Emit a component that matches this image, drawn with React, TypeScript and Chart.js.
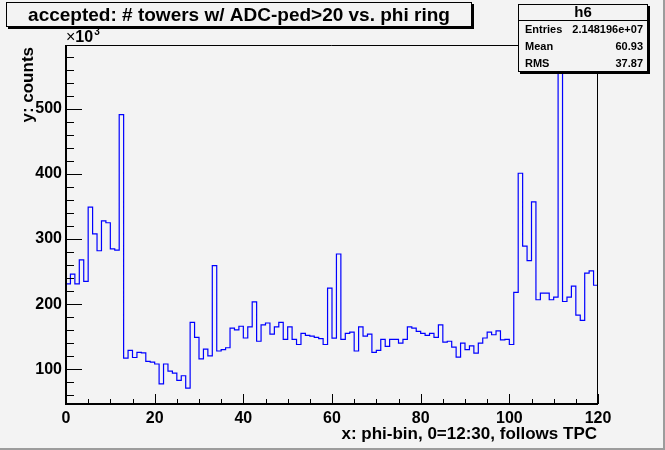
import React, { useEffect, useRef } from 'react';
import { Chart, registerables } from 'chart.js';

Chart.register(...registerables);

// counts per phi-bin, in units of 10^3
const binCounts: number[] = [
  231, 246, 231, 268, 235, 349, 308, 282, 328, 325,
  285, 283, 491, 117, 129, 118, 126, 125, 112, 111,
  108, 77.5, 108, 97, 94, 83, 90, 71, 172, 149,
  116, 131, 120.5, 259, 128, 130, 133, 163, 160.5, 166,
  148, 165, 203.6, 143, 168, 171, 154, 165, 172, 146,
  165, 146, 138, 155, 152, 151, 149, 147, 138, 224.6,
  147.7, 277, 146, 155, 157, 128, 165, 151, 154, 126,
  129, 146, 135, 146, 146, 140, 146, 165, 163, 158,
  155, 152, 155, 149, 168, 141.5, 143, 134, 118.5, 140,
  130, 136, 124.6, 140, 148, 157, 153, 159, 145, 146,
  138, 218, 401, 289, 266.7, 357, 206.7, 217, 217, 206.7,
  210.8, 650, 204, 210.8, 227.7, 183, 175, 247.7, 251, 229,
];

const xTickLabels: number[] = [0, 20, 40, 60, 80, 100, 120];
const yTickLabels: number[] = [100, 200, 300, 400, 500];
const xMin = 0;
const xMax = 120;
const yMin = 46.6;
const yMax = 598;

const titleText = 'accepted: # towers w/ ADC-ped>20 vs. phi ring';
const xTitle = 'x: phi-bin, 0=12:30, follows TPC';
const yTitle = 'y: counts';
const statsName = 'h6';
const statsLabels: string[] = ['Entries', 'Mean', 'RMS'];
const statsValues: string[] = ['2.148196e+07', '60.93', '37.87'];

const FONT = '"Liberation Sans", Arial, Helvetica, sans-serif';
const BG = '#f3f3f3';

const rootPlugin = {
  id: 'rootStyle',
  beforeDraw(chart: any) {
    const ctx = chart.ctx;
    ctx.save();
    ctx.fillStyle = BG;
    ctx.fillRect(0, 0, chart.width, chart.height);
    ctx.restore();
  },
  afterDraw(chart: any) {
    const ctx: CanvasRenderingContext2D = chart.ctx;
    const a = chart.chartArea;
    const xs = chart.scales.x;
    const ys = chart.scales.y;
    ctx.save();
    ctx.strokeStyle = '#000';
    ctx.fillStyle = '#000';

    // frame (top/right thin)
    ctx.lineWidth = 1;
    ctx.beginPath();
    ctx.moveTo(a.left, a.top + 0.5);
    ctx.lineTo(a.right - 0.5, a.top + 0.5);
    ctx.lineTo(a.right - 0.5, a.bottom);
    ctx.stroke();

    // axes (thicker)
    ctx.lineWidth = 2;
    ctx.beginPath();
    ctx.moveTo(a.left, a.top);
    ctx.lineTo(a.left, a.bottom);
    ctx.lineTo(a.right, a.bottom);
    ctx.stroke();

    // inward ticks
    ctx.lineWidth = 1;
    ctx.beginPath();
    for (let v = xMin; v <= xMax; v += 5) {
      const px = Math.round(xs.getPixelForValue(v)) + 0.5;
      const len = v % 20 === 0 ? 10 : 5;
      ctx.moveTo(px, a.bottom);
      ctx.lineTo(px, a.bottom - len);
    }
    for (let v = Math.ceil(yMin / 20) * 20; v <= yMax; v += 20) {
      const py = Math.round(ys.getPixelForValue(v)) + 0.5;
      const len = v % 100 === 0 ? 16 : 8;
      ctx.moveTo(a.left, py);
      ctx.lineTo(a.left + len, py);
    }
    ctx.stroke();

    // x10^3
    ctx.textBaseline = 'alphabetic';
    ctx.textAlign = 'left';
    ctx.font = `16px ${FONT}`;
    ctx.fillText('\u00d7', 66, 42);
    const wx = ctx.measureText('\u00d7').width;
    ctx.font = `bold 16px ${FONT}`;
    ctx.fillText('10', 66 + wx, 42);
    const w10 = ctx.measureText('10').width;
    ctx.font = `bold 10px ${FONT}`;
    ctx.fillText('3', 66 + wx + w10 + 1, 35);

    // axis titles
    ctx.font = `bold 17px ${FONT}`;
    ctx.textAlign = 'right';
    ctx.fillText(xTitle, 597, 439);
    ctx.save();
    ctx.translate(33, 47);
    ctx.rotate(-Math.PI / 2);
    ctx.font = `bold 17px ${FONT}`;
    ctx.textAlign = 'right';
    ctx.textBaseline = 'alphabetic';
    ctx.fillText(yTitle, 0, 0);
    ctx.restore();

    // title box
    const tb = { l: 6, t: 2, r: 472, b: 27 };
    ctx.fillStyle = '#000';
    ctx.fillRect(tb.l + 2, tb.b, tb.r - tb.l, 2);
    ctx.fillRect(tb.r, tb.t + 2, 2, tb.b - tb.t);
    ctx.fillStyle = BG;
    ctx.fillRect(tb.l, tb.t, tb.r - tb.l, tb.b - tb.t);
    ctx.lineWidth = 1;
    ctx.strokeRect(tb.l + 0.5, tb.t + 0.5, tb.r - tb.l - 1, tb.b - tb.t - 1);
    ctx.fillStyle = '#000';
    ctx.font = `bold 19px ${FONT}`;
    ctx.textAlign = 'center';
    ctx.textBaseline = 'middle';
    ctx.fillText(titleText, (tb.l + tb.r) / 2, (tb.t + tb.b) / 2 + 1);

    // stats box
    const sb = { l: 518, t: 4, r: 648, b: 72 };
    ctx.fillRect(sb.l + 2, sb.b, sb.r - sb.l, 2);
    ctx.fillRect(sb.r, sb.t + 2, 2, sb.b - sb.t);
    ctx.fillStyle = BG;
    ctx.fillRect(sb.l, sb.t, sb.r - sb.l, sb.b - sb.t);
    ctx.strokeRect(sb.l + 0.5, sb.t + 0.5, sb.r - sb.l - 1, sb.b - sb.t - 1);
    ctx.beginPath();
    ctx.moveTo(sb.l, 20.5);
    ctx.lineTo(sb.r, 20.5);
    ctx.stroke();
    ctx.fillStyle = '#000';
    ctx.font = `bold 15px ${FONT}`;
    ctx.textAlign = 'center';
    ctx.fillText(statsName, (sb.l + sb.r) / 2, 12.5);
    ctx.font = `bold 11px ${FONT}`;
    const rowY = [30, 47, 64];
    statsLabels.forEach((lab, i) => {
      ctx.textAlign = 'left';
      ctx.fillText(lab, sb.l + 7, rowY[i]);
      ctx.textAlign = 'right';
      ctx.fillText(statsValues[i], sb.r - 5, rowY[i]);
    });

    // canvas border
    ctx.fillStyle = '#9c9c9c';
    ctx.fillRect(0, chart.height - 2, chart.width, 2);
    ctx.fillRect(chart.width - 2, 0, 2, chart.height);
    ctx.restore();
  },
};

export default function App() {
  const ref = useRef<HTMLCanvasElement | null>(null);

  useEffect(() => {
    if (!ref.current) return;
    const points = binCounts.map((v, i) => ({ x: xMin + i, y: v }));
    points.push({ x: xMax, y: binCounts[binCounts.length - 1] });

    const tickFont = { family: FONT, size: 16, weight: 'bold' as const };

    const chart = new Chart(ref.current, {
      type: 'line',
      data: {
        datasets: [
          {
            data: points,
            stepped: 'before',
            borderColor: '#0000ff',
            borderWidth: 1.2,
            pointRadius: 0,
            fill: false,
            tension: 0,
          },
        ],
      },
      plugins: [rootPlugin],
      options: {
        animation: false,
        responsive: false,
        devicePixelRatio: 1,
        layout: { padding: { top: 45, right: 67, left: 0, bottom: 0 } },
        plugins: {
          legend: { display: false },
          tooltip: { enabled: false },
          title: { display: false },
        },
        scales: {
          x: {
            type: 'linear',
            position: 'bottom',
            min: xMin,
            max: xMax,
            grid: { display: false, drawTicks: false },
            border: { display: false },
            afterBuildTicks: (s: any) => {
              s.ticks = xTickLabels.map((v) => ({ value: v }));
            },
            afterFit: (s: any) => {
              s.height = 46;
            },
            ticks: {
              font: tickFont,
              color: '#000',
              padding: 5,
              maxRotation: 0,
              autoSkip: false,
            },
          },
          y: {
            type: 'linear',
            min: yMin,
            max: yMax,
            grid: { display: false, drawTicks: false },
            border: { display: false },
            afterBuildTicks: (s: any) => {
              s.ticks = yTickLabels.map((v) => ({ value: v }));
            },
            afterFit: (s: any) => {
              s.width = 66;
            },
            ticks: {
              font: tickFont,
              color: '#000',
              padding: 4,
              autoSkip: false,
            },
          },
        },
      },
    } as any);
    return () => chart.destroy();
  }, []);

  return (
    <div style={{ position: 'absolute', left: 0, top: 0, width: 665, height: 450 }}>
      <canvas ref={ref} width={665} height={450} />
    </div>
  );
}
